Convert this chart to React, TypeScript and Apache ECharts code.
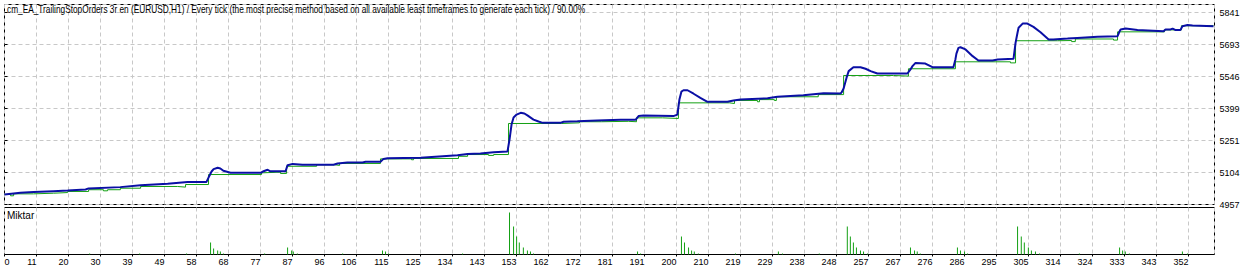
import React, { useEffect, useRef } from "react";
import * as echarts from "echarts";

const TITLE =
  "cm_EA_TrailingStopOrders 3r en (EURUSD,H1) / Every tick (the most precise method based on all available least timeframes to generate each tick) / 90.00%";
const LOWER_LABEL = "Miktar";

const X_TICK_LABELS = [
  "0", "11", "20", "30", "39", "49", "58", "68", "77", "87", "96", "106", "115", "125",
  "134", "143", "153", "162", "172", "181", "191", "200", "210", "219", "229", "238",
  "248", "257", "267", "276", "286", "295", "305", "314", "324", "333", "343", "352",
];
const Y_TICK_LABELS = ["4957", "5104", "5251", "5399", "5546", "5693", "5841"];

// blue line: [trade number, account value]
const balanceCurve = [
  [0, 5003], [4.7, 5011], [8.6, 5014], [14.5, 5018], [18.7, 5021], [24, 5026], [24.9, 5031],
  [34.3, 5037], [40.3, 5046], [48.3, 5052], [54.2, 5061], [59.8, 5061], [60.4, 5081],
  [61.3, 5109], [61.9, 5120], [63.1, 5126], [63.9, 5123], [64.8, 5112], [66.9, 5103],
  [75.8, 5103], [76.7, 5110], [77.9, 5117], [78.7, 5110], [83.2, 5110], [83.8, 5138],
  [85.3, 5144], [88.2, 5140], [97.4, 5140], [98.6, 5146], [101.5, 5150], [106, 5150],
  [106.9, 5154], [111.3, 5154], [112.2, 5167], [113.4, 5170], [123.2, 5172], [134.1, 5184],
  [137.1, 5190], [140.9, 5192], [144.8, 5198], [148.9, 5201], [149.5, 5256], [150.1, 5325],
  [150.7, 5358], [151.6, 5371], [152.8, 5379], [153.9, 5376], [154.8, 5367], [156.6, 5348],
  [158.1, 5339], [159.3, 5333], [164.6, 5333], [165.5, 5338], [169.6, 5340], [175.5, 5344],
  [182.4, 5347], [186.8, 5347], [187.7, 5364], [189.2, 5367], [198, 5364], [199.2, 5371],
  [199.8, 5440], [200.4, 5477], [201, 5483], [202.2, 5483], [204, 5467], [206, 5448],
  [208.1, 5430], [214, 5430], [215.8, 5436], [217.9, 5440], [225.9, 5446], [228.8, 5453],
  [236.5, 5460], [242.5, 5469], [247.5, 5468], [247.8, 5473], [248.4, 5491], [249.3, 5542],
  [249.9, 5571], [251.3, 5589], [253.4, 5589], [254.9, 5582], [256.4, 5571], [258.4, 5560],
  [267.3, 5560], [268.2, 5579], [268.8, 5594], [269.7, 5609], [272.6, 5606], [274.7, 5589],
  [280.9, 5589], [281.5, 5625], [281.8, 5652], [282.4, 5678], [283, 5681], [284.5, 5671],
  [286.6, 5640], [288.3, 5620], [292.5, 5620], [294, 5625], [298.7, 5628], [299.3, 5701],
  [299.9, 5749], [300.2, 5771], [301.4, 5790], [302.8, 5790], [304.6, 5775], [306.7, 5750],
  [309.1, 5717], [310.5, 5717], [314.7, 5721], [317.6, 5724], [323.6, 5729], [329.5, 5732],
  [330.1, 5754], [330.4, 5763], [331.9, 5767], [335.4, 5760], [343.1, 5755], [343.7, 5763],
  [345.2, 5763], [345.8, 5767], [346.7, 5760], [348.1, 5760], [348.7, 5778], [350.2, 5783],
  [351.7, 5781], [357.9, 5778],
];

// green step line: [trade number where the level starts, value]
const equitySteps = [
  [0, 5003], [1.8, 4997], [2.7, 5006], [8.6, 5009], [14.5, 5012], [18.7, 5017], [24.9, 5025],
  [29.3, 5020], [30.5, 5025], [34.3, 5032], [40.3, 5040], [51.2, 5037], [53.6, 5049],
  [60.4, 5095], [76.1, 5103], [76.7, 5106], [81.7, 5100], [83.5, 5133], [92.4, 5140],
  [97.7, 5137], [99.2, 5146], [111.3, 5167], [120.5, 5163], [121.1, 5169], [134.4, 5179],
  [137.1, 5187], [143.3, 5183], [144.8, 5187], [149.2, 5330], [164.9, 5333], [170.2, 5338],
  [176.7, 5340], [184.7, 5338], [187.1, 5356], [194.8, 5353], [199.5, 5425], [214.6, 5422],
  [216.1, 5436], [222.9, 5430], [223.5, 5440], [227.9, 5436], [228.5, 5453], [240.9, 5463],
  [248.4, 5551], [263.2, 5548], [267.6, 5582], [281.5, 5614], [297.8, 5609], [299.3, 5711],
  [311.7, 5712], [315.9, 5707], [317, 5719], [328.3, 5714], [329.5, 5752], [343.4, 5761],
  [348.4, 5780], [357.9, 5780],
];

// lower panel: [trade number, lot size]
const lotBars = [
  [25.2, 0.01], [40, 0.01], [53.9, 0.01], [61, 0.12], [61.9, 0.06], [63.1, 0.04], [63.9, 0.03],
  [64.8, 0.01], [77, 0.01], [83.8, 0.07], [85, 0.04], [85.5, 0.03], [86.7, 0.01], [100.1, 0.01],
  [111.9, 0.04], [112.8, 0.03], [113.7, 0.01], [135.6, 0.01], [149.5, 0.42], [150.7, 0.28],
  [151.6, 0.18], [152.4, 0.12], [153.6, 0.07], [154.8, 0.04], [155.7, 0.03], [156.6, 0.01],
  [187.4, 0.03], [188.3, 0.01], [200.4, 0.18], [201.3, 0.12], [202.5, 0.07], [203.4, 0.04],
  [204.2, 0.03], [205.4, 0.01], [216.4, 0.01], [229.1, 0.03], [230.3, 0.01], [241.2, 0.01],
  [249.5, 0.28], [250.4, 0.18], [251.3, 0.12], [252.2, 0.07], [253.4, 0.04], [254.3, 0.03],
  [255.5, 0.01], [268.2, 0.07], [269.4, 0.04], [270.2, 0.03], [271.1, 0.01], [282.1, 0.07],
  [283, 0.04], [284.2, 0.03], [285.1, 0.01], [299.9, 0.28], [301, 0.18], [301.9, 0.12],
  [303.1, 0.07], [304, 0.04], [305.2, 0.03], [306.4, 0.01], [318.2, 0.01], [330.1, 0.07],
  [331, 0.04], [331.8, 0.03], [333, 0.01], [348.7, 0.03], [350.2, 0.01],
];

const FONT = "'Liberation Sans', Arial, sans-serif";
const BLUE = "#0A0FA5";
const GREEN = "#14A014";
const GRID_DASH = "#C8C8C8";

function isInt(v: number) {
  return Math.abs(v - Math.round(v)) < 1e-6;
}

export default function App() {
  const ref = useRef<HTMLDivElement>(null);

  useEffect(() => {
    if (!ref.current) return;
    const chart = echarts.init(ref.current, undefined, { renderer: "svg" });

    const mainH = 200;
    const lowH = 47;
    const plotW = 1210;
    const pxPerGrid = 32;
    const tradesPerPx = 1 / 3.378;
    const valuePerPx = 147.3333 / 32;

    const splitDash = {
      show: true,
      lineStyle: { color: GRID_DASH, type: [4, 3] as any, width: 1 },
    };

    chart.setOption({
      animation: false,
      backgroundColor: "#FFFFFF",
      textStyle: { fontFamily: FONT },
      grid: [
        {
          left: 4.5, top: 4.5, width: plotW, height: mainH,
          show: true, borderColor: "#000", borderWidth: 1, backgroundColor: "transparent",
        },
        {
          left: 4.5, top: 207.5, width: plotW, height: lowH,
          show: true, borderColor: "#000", borderWidth: 1, backgroundColor: "transparent",
        },
      ],
      xAxis: [
        { type: "value", gridIndex: 0, position: "bottom", min: 0, max: plotW * tradesPerPx, show: false },
        {
          type: "value", gridIndex: 0, position: "top", min: 0, max: plotW / pxPerGrid, interval: 1,
          axisLine: { show: false }, axisTick: { show: false }, axisLabel: { show: false },
          splitLine: splitDash,
        },
        { type: "value", gridIndex: 1, position: "top", min: 0, max: plotW * tradesPerPx, show: false },
        {
          type: "value", gridIndex: 1, position: "bottom", min: 0, max: plotW / pxPerGrid, interval: 1,
          axisLine: { show: false },
          axisTick: { show: true, length: 2, lineStyle: { color: "#000" } },
          axisLabel: {
            show: true, margin: 3, fontSize: 9, fontFamily: FONT, color: "#000",
            align: "right", alignMinLabel: "left", showMaxLabel: false,
            formatter: (v: number) => (isInt(v) ? X_TICK_LABELS[Math.round(v)] ?? "" : ""),
          },
          splitLine: splitDash,
        },
      ],
      yAxis: [
        { type: "value", gridIndex: 0, position: "left", min: 4957, max: 4957 + mainH * valuePerPx, show: false },
        {
          type: "value", gridIndex: 0, position: "right", min: 0, max: mainH / pxPerGrid, interval: 1,
          axisLine: { show: false },
          axisTick: { show: true, length: 3, lineStyle: { color: "#000" } },
          axisLabel: {
            show: true, margin: 5, fontSize: 9, fontFamily: FONT, color: "#000",
            showMaxLabel: false,
            formatter: (v: number) => (isInt(v) ? Y_TICK_LABELS[Math.round(v)] ?? "" : ""),
          },
          splitLine: splitDash,
        },
        { type: "value", gridIndex: 1, min: 0, max: 0.47, show: false },
      ],
      graphic: [
        {
          type: "text", x: 7, y: 5, scaleX: 0.83, scaleY: 1, silent: true, z: 100,
          style: {
            text: TITLE, fill: "#000", fontSize: 10, fontFamily: FONT,
            textAlign: "left", textVerticalAlign: "top",
          },
        },
        {
          type: "text", x: 7, y: 210, silent: true, z: 100,
          style: {
            text: LOWER_LABEL, fill: "#000", fontSize: 10, fontFamily: FONT,
            textAlign: "left", textVerticalAlign: "top",
          },
        },
      ],
      series: [
        {
          name: "Equity", type: "line", xAxisIndex: 0, yAxisIndex: 0, step: "end",
          data: equitySteps, showSymbol: false, symbol: "none",
          lineStyle: { color: GREEN, width: 1 }, z: 2,
        },
        {
          name: "Balance", type: "line", xAxisIndex: 0, yAxisIndex: 0,
          data: balanceCurve, showSymbol: false, symbol: "none",
          lineStyle: { color: BLUE, width: 2 }, z: 3,
        },
        {
          name: "Lots", type: "bar", xAxisIndex: 2, yAxisIndex: 2,
          data: lotBars, barWidth: 1, itemStyle: { color: GREEN }, z: 2,
        },
      ],
    });

    return () => chart.dispose();
  }, []);

  return (
    <div
      ref={ref}
      style={{ position: "fixed", left: 0, top: 0, width: 1260, height: 272, background: "#fff" }}
    />
  );
}
